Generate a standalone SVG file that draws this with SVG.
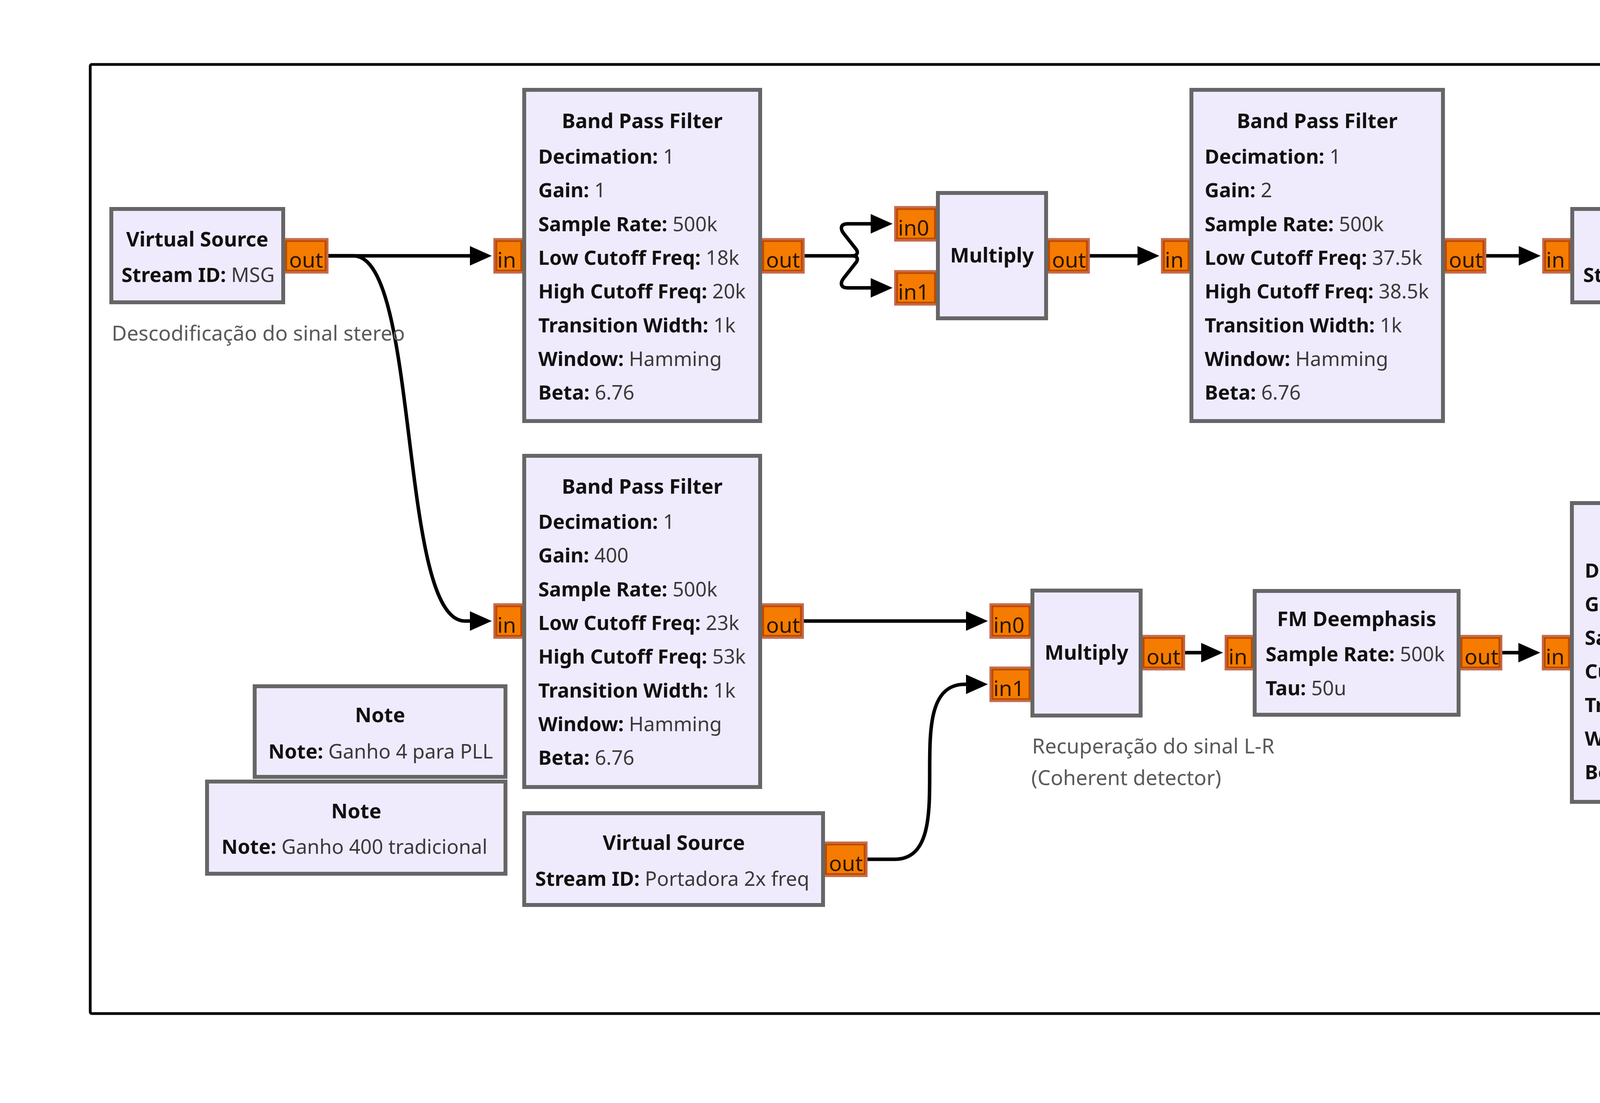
<svg xmlns="http://www.w3.org/2000/svg" width="5665" height="2824" viewBox="0 0 5665 2824">
<style>
.bg{fill:#ffffff}
.frame{fill:none;stroke:#000;stroke-width:7}
.b{fill:#EFEBFD;stroke:#666666;stroke-width:10}
.pa{fill:none;stroke:#C46A4C;stroke-width:5}
.pb{fill:#F57C00;stroke:#BE4A00;stroke-width:5}
.pl{font-family:"Noto Sans","DejaVu Sans",sans-serif;font-size:55px;fill:#2a1500}
.t{font-family:"Noto Sans","DejaVu Sans",sans-serif;font-size:52px;font-weight:bold;fill:#111;text-anchor:middle}
.p{font-family:"Noto Sans","DejaVu Sans",sans-serif;font-size:51px;fill:#3a3a3a}
.k{font-weight:bold;fill:#111}
.c{font-family:"Noto Sans","DejaVu Sans",sans-serif;font-size:53px;fill:#5a5a5a}
.num{font-family:"Liberation Sans",Arial,sans-serif;font-size:88px;font-weight:bold;fill:#000;text-anchor:end}
.w{fill:none;stroke:#000;stroke-width:9;marker-end:url(#ah)}
</style>
<defs>
<marker id="ah" markerWidth="56" markerHeight="50" refX="36" refY="25" orient="auto" markerUnits="userSpaceOnUse">
<path d="M0,0 L56,25 L0,50 Z" fill="#000"/>
</marker>
</defs>
<rect class="bg" x="0" y="0" width="5665" height="2824"/>
<rect class="frame" x="231" y="165" width="5241" height="2430" rx="4"/>
<text class="num" x="5378" y="303">3</text>

<g id="connectors">
<path class="w" d="M841,655 H1239"/>
<path class="w" d="M841,655 H905 C1075,655 1020,1590 1190,1590 H1239"/>
<path class="w" d="M2060,655 H2182 C2196,655 2198,645 2190,636 L2160,598 C2150,585 2152,573 2170,573 H2265"/>
<path class="w" d="M2182,655 C2196,655 2198,665 2190,674 L2160,712 C2150,725 2152,737 2170,737 H2265"/>
<path class="w" d="M2790,655 H2948"/>
<path class="w" d="M3805,655 H3924"/>
<path class="w" d="M2058,1590 H2509"/>
<path class="w" d="M2221,2200 H2290 C2470,2200 2290,1752 2470,1752 H2509"/>
<path class="w" d="M3034,1671 H3111"/>
<path class="w" d="M3846,1671 H3923"/>
<path class="w" d="M4741,1671 H4859"/>
</g>

<g id="virtual_source_msg">
<rect class="pa" x="727.5" y="612" width="111" height="86"/>
<rect class="pb" x="732.5" y="617" width="101" height="76"/>
<text class="pl" x="740" y="685">out</text>
<rect class="b" x="285" y="535" width="440" height="239"/>
<text class="t" x="505" y="631">Virtual Source</text>
<text class="p" x="311" y="722"><tspan class="k">Stream ID:</tspan> MSG</text>
</g>
<text id="comment_stereo" class="c" x="286" y="872">Descodificação do sinal stereo</text>

<g id="band_pass_filter_1">
<rect class="pa" x="1265.5" y="612" width="74" height="86"/>
<rect class="pb" x="1270.5" y="617" width="64" height="76"/>
<text class="pl" x="1273" y="685">in</text>
<rect class="pa" x="1948.5" y="612" width="109" height="86"/>
<rect class="pb" x="1953.5" y="617" width="99" height="76"/>
<text class="pl" x="1961" y="685">out</text>
<rect class="b" x="1342" y="230" width="604" height="848"/>
<text class="t" x="1644" y="328">Band Pass Filter</text>
<text class="p" x="1378" y="419"><tspan class="k">Decimation:</tspan> 1</text>
<text class="p" x="1378" y="505"><tspan class="k">Gain:</tspan> 1</text>
<text class="p" x="1378" y="592"><tspan class="k">Sample Rate:</tspan> 500k</text>
<text class="p" x="1378" y="678"><tspan class="k">Low Cutoff Freq:</tspan> 18k</text>
<text class="p" x="1378" y="764"><tspan class="k">High Cutoff Freq:</tspan> 20k</text>
<text class="p" x="1378" y="851"><tspan class="k">Transition Width:</tspan> 1k</text>
<text class="p" x="1378" y="937"><tspan class="k">Window:</tspan> Hamming</text>
<text class="p" x="1378" y="1023"><tspan class="k">Beta:</tspan> 6.76</text>
</g>

<g id="multiply_1">
<rect class="pa" x="2291.5" y="530" width="107" height="86"/>
<rect class="pb" x="2296.5" y="535" width="97" height="76"/>
<text class="pl" x="2299" y="603">in0</text>
<rect class="pa" x="2291.5" y="694" width="107" height="86"/>
<rect class="pb" x="2296.5" y="699" width="97" height="76"/>
<text class="pl" x="2299" y="767">in1</text>
<rect class="pa" x="2680.5" y="612" width="107" height="86"/>
<rect class="pb" x="2685.5" y="617" width="97" height="76"/>
<text class="pl" x="2693" y="685">out</text>
<rect class="b" x="2401" y="494" width="277" height="321"/>
<text class="t" x="2539.5" y="672">Multiply</text>
</g>

<g id="band_pass_filter_2">
<rect class="pa" x="2974.5" y="612" width="73" height="86"/>
<rect class="pb" x="2979.5" y="617" width="63" height="76"/>
<text class="pl" x="2982" y="685">in</text>
<rect class="pa" x="3696.5" y="612" width="106" height="86"/>
<rect class="pb" x="3701.5" y="617" width="96" height="76"/>
<text class="pl" x="3709" y="685">out</text>
<rect class="b" x="3050" y="230" width="644" height="848"/>
<text class="t" x="3372" y="328">Band Pass Filter</text>
<text class="p" x="3084" y="419"><tspan class="k">Decimation:</tspan> 1</text>
<text class="p" x="3084" y="505"><tspan class="k">Gain:</tspan> 2</text>
<text class="p" x="3084" y="592"><tspan class="k">Sample Rate:</tspan> 500k</text>
<text class="p" x="3084" y="678"><tspan class="k">Low Cutoff Freq:</tspan> 37.5k</text>
<text class="p" x="3084" y="764"><tspan class="k">High Cutoff Freq:</tspan> 38.5k</text>
<text class="p" x="3084" y="851"><tspan class="k">Transition Width:</tspan> 1k</text>
<text class="p" x="3084" y="937"><tspan class="k">Window:</tspan> Hamming</text>
<text class="p" x="3084" y="1023"><tspan class="k">Beta:</tspan> 6.76</text>
</g>

<g id="virtual_sink_portadora">
<rect class="pa" x="3950.5" y="612" width="72" height="86"/>
<rect class="pb" x="3955.5" y="617" width="62" height="76"/>
<text class="pl" x="3958" y="685">in</text>
<rect class="b" x="4025" y="535" width="766" height="239"/>
<text class="t" x="4408" y="631">Virtual Sink</text>
<text class="p" x="4053" y="722"><tspan class="k">Stream ID:</tspan> Portadora 2x freq</text>
</g>

<g id="band_pass_filter_3">
<rect class="pa" x="1265.5" y="1547" width="74" height="86"/>
<rect class="pb" x="1270.5" y="1552" width="64" height="76"/>
<text class="pl" x="1273" y="1620">in</text>
<rect class="pa" x="1948.5" y="1547" width="107" height="86"/>
<rect class="pb" x="1953.5" y="1552" width="97" height="76"/>
<text class="pl" x="1961" y="1620">out</text>
<rect class="b" x="1342" y="1167" width="604" height="848"/>
<text class="t" x="1644" y="1264">Band Pass Filter</text>
<text class="p" x="1378" y="1354"><tspan class="k">Decimation:</tspan> 1</text>
<text class="p" x="1378" y="1440"><tspan class="k">Gain:</tspan> 400</text>
<text class="p" x="1378" y="1527"><tspan class="k">Sample Rate:</tspan> 500k</text>
<text class="p" x="1378" y="1613"><tspan class="k">Low Cutoff Freq:</tspan> 23k</text>
<text class="p" x="1378" y="1699"><tspan class="k">High Cutoff Freq:</tspan> 53k</text>
<text class="p" x="1378" y="1786"><tspan class="k">Transition Width:</tspan> 1k</text>
<text class="p" x="1378" y="1872"><tspan class="k">Window:</tspan> Hamming</text>
<text class="p" x="1378" y="1958"><tspan class="k">Beta:</tspan> 6.76</text>
</g>

<g id="note_pll">
<rect class="b" x="652" y="1757" width="642" height="232"/>
<text class="t" x="973" y="1849">Note</text>
<text class="p" x="687" y="1942"><tspan class="k">Note:</tspan> Ganho 4 para PLL</text>
</g>

<g id="note_tradicional">
<rect class="b" x="530" y="2001" width="764" height="236"/>
<text class="t" x="912" y="2095">Note</text>
<text class="p" x="567" y="2186"><tspan class="k">Note:</tspan> Ganho 400 tradicional</text>
</g>

<g id="virtual_source_portadora">
<rect class="pa" x="2109.5" y="2157" width="109" height="86"/>
<rect class="pb" x="2114.5" y="2162" width="99" height="76"/>
<text class="pl" x="2122" y="2230">out</text>
<rect class="b" x="1342" y="2082" width="765" height="235"/>
<text class="t" x="1725" y="2176">Virtual Source</text>
<text class="p" x="1370" y="2268"><tspan class="k">Stream ID:</tspan> Portadora 2x freq</text>
</g>

<g id="multiply_2">
<rect class="pa" x="2535.5" y="1547" width="105" height="86"/>
<rect class="pb" x="2540.5" y="1552" width="95" height="76"/>
<text class="pl" x="2543" y="1620">in0</text>
<rect class="pa" x="2535.5" y="1709" width="105" height="86"/>
<rect class="pb" x="2540.5" y="1714" width="95" height="76"/>
<text class="pl" x="2543" y="1782">in1</text>
<rect class="pa" x="2922.5" y="1628" width="109" height="86"/>
<rect class="pb" x="2927.5" y="1633" width="99" height="76"/>
<text class="pl" x="2935" y="1701">out</text>
<rect class="b" x="2643" y="1512" width="277" height="320"/>
<text class="t" x="2781.5" y="1689">Multiply</text>
</g>
<text id="comment_lr" class="c" x="2642" y="1929">Recuperação do sinal L-R<tspan x="2640" y="2010">(Coherent detector)</tspan></text>

<g id="fm_deemphasis">
<rect class="pa" x="3137.5" y="1628" width="72" height="86"/>
<rect class="pb" x="3142.5" y="1633" width="62" height="76"/>
<text class="pl" x="3145" y="1701">in</text>
<rect class="pa" x="3736.5" y="1628" width="107" height="86"/>
<rect class="pb" x="3741.5" y="1633" width="97" height="76"/>
<text class="pl" x="3749" y="1701">out</text>
<rect class="b" x="3212" y="1513" width="522" height="317"/>
<text class="t" x="3473" y="1603">FM Deemphasis</text>
<text class="p" x="3240" y="1693"><tspan class="k">Sample Rate:</tspan> 500k</text>
<text class="p" x="3240" y="1780"><tspan class="k">Tau:</tspan> 50u</text>
</g>

<g id="low_pass_filter">
<rect class="pa" x="3949.5" y="1628" width="72" height="86"/>
<rect class="pb" x="3954.5" y="1633" width="62" height="76"/>
<text class="pl" x="3957" y="1701">in</text>
<rect class="pa" x="4631.5" y="1628" width="107" height="86"/>
<rect class="pb" x="4636.5" y="1633" width="97" height="76"/>
<text class="pl" x="4644" y="1701">out</text>
<rect class="b" x="4024" y="1288" width="605" height="765"/>
<text class="t" x="4326.5" y="1386">Low Pass Filter</text>
<text class="p" x="4057" y="1479"><tspan class="k">Decimation:</tspan> 1</text>
<text class="p" x="4057" y="1565"><tspan class="k">Gain:</tspan> 1</text>
<text class="p" x="4057" y="1651"><tspan class="k">Sample Rate:</tspan> 500k</text>
<text class="p" x="4057" y="1737"><tspan class="k">Cutoff Freq:</tspan> 15k</text>
<text class="p" x="4057" y="1823"><tspan class="k">Transition Width:</tspan> 200</text>
<text class="p" x="4057" y="1909"><tspan class="k">Window:</tspan> Hamming</text>
<text class="p" x="4057" y="1995"><tspan class="k">Beta:</tspan> 6.76</text>
</g>

<g id="virtual_sink_lr">
<rect class="pa" x="4885.5" y="1628" width="71" height="86"/>
<rect class="pb" x="4890.5" y="1633" width="61" height="76"/>
<text class="pl" x="4893" y="1701">in</text>
<rect class="b" x="4959" y="1551" width="442" height="238"/>
<text class="t" x="5180" y="1647">Virtual Sink</text>
<text class="p" x="4988" y="1740"><tspan class="k">Stream ID:</tspan> L - R</text>
</g>
</svg>
